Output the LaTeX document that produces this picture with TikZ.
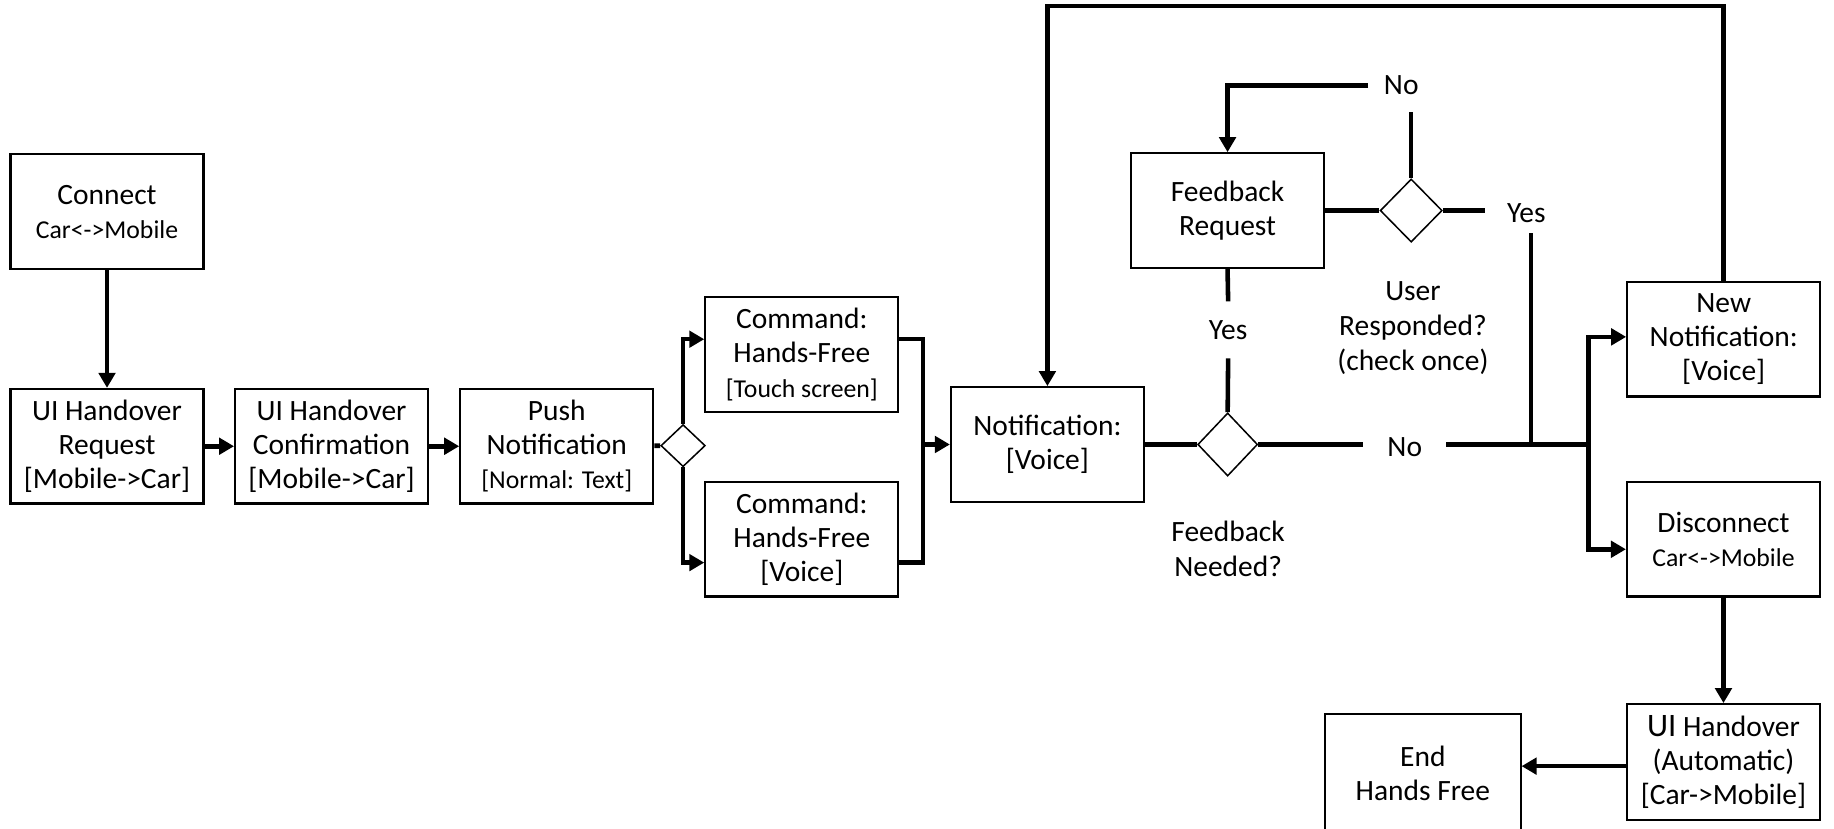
\documentclass[tikz,border=0pt]{standalone}
\usepackage{fontspec}
\setmainfont{Carlito}
\usetikzlibrary{shapes.geometric,arrows.meta}
\newcommand\smalltxt{\fontsize{11}{14.5}\selectfont}
\begin{document}
\begin{tikzpicture}[x=0.5pt,y=-0.5pt,
 box/.style={draw,line width=0.9pt,minimum width=82.5pt,minimum height=49pt,inner sep=0pt,align=center,font=\fontsize{12.6}{14.6}\selectfont},
 dia/.style={draw,diamond,line width=0.65pt,inner sep=0pt,aspect=1},
 lbl/.style={inner sep=0pt,align=center,font=\fontsize{12.6}{14.8}\selectfont},
 ln/.style={line width=1.95pt},
 arr/.style={line width=1.95pt,-{Triangle[length=6.4pt,width=7pt]}}]
\useasboundingbox (0,0) rectangle (1568,708);

\node[box] (connect) at (91.5,181) {Connect\\{\smalltxt Car<->Mobile}};
\node[box] (uireq) at (91.5,381.5) {UI Handover\\Request\\{[Mobile->Car]}};
\node[box] (uiconf) at (283.5,381.5) {UI Handover\\Confirmation\\{[Mobile->Car]}};
\node[box] (push) at (476,381.5) {Push\\Notification\\{\smalltxt [Normal: Text]}};
\node[dia,minimum width=19pt,minimum height=18pt] (d1) at (584,381) {};
\node[box] (cmdT) at (685.5,303) {Command:\\Hands-Free\\{\smalltxt [Touch screen]}};
\node[box] (cmdV) at (685.5,461) {Command:\\Hands-Free\\{[Voice]}};
\node[box] (notif) at (895.5,380) {Notification:\\{[Voice]}};
\node[dia,minimum width=25.6pt,minimum height=27pt] (d2) at (1049.6,380) {};
\node[box] (fb) at (1049.5,180) {Feedback\\Request};
\node[dia,minimum width=26.5pt,minimum height=27pt] (d3) at (1206.5,180) {};
\node[box] (newn) at (1473.7,290) {New\\Notification:\\{[Voice]}};
\node[box] (disc) at (1473.5,461) {Disconnect\\{\smalltxt Car<->Mobile}};
\node[box,minimum height=49.5pt] (uiauto) at (1473.5,651.5) {{\fontsize{14}{14.6}\selectfont UI} Handover\\(Automatic)\\{[Car->Mobile]}};
\node[box,minimum height=50.5pt,minimum width=83.5pt] (end) at (1216.5,661) {End\\Hands Free};

\node[lbl,minimum height=24pt] (yesA) at (1050,282) {Yes};
\node[lbl,minimum width=28pt,minimum height=22pt] (noT) at (1198,73) {No};
\node[lbl,minimum width=35pt,minimum height=17pt] (yesR) at (1305,182) {Yes};
\node[lbl,minimum width=35pt] (noM) at (1201,382) {No};
\node[lbl] (userR) at (1208,280.5) {User\\Responded?\\(check once)};
\node[lbl] (fbN) at (1050,469.5) {Feedback\\Needed?};

\coordinate (bT) at (584,290);
\coordinate (bB) at (584,481);
\coordinate (jR) at (789,380);
\coordinate (jY) at (1309,380);
\coordinate (jB) at (1358,380);
\coordinate (topL) at (0,5);

\draw[arr] (connect) -- (uireq);
\draw[arr] (uireq) -- (uiconf);
\draw[arr] (uiconf) -- (push);
\draw[ln] (push) -- (d1);
\draw[arr] (d1.north) |- (cmdT.west |- bT);
\draw[arr] (d1.south) |- (cmdV.west |- bB);
\draw[ln] (cmdT.east |- bT) -| (jR |- bB) -- (cmdV.east |- bB);
\draw[arr] (jR) -- (notif.west);
\draw[ln] (notif) -- (d2);
\draw[ln] (d2.north) -- (yesA.south);
\draw[ln] (yesA.north) -- (fb.south);
\draw[ln] (fb) -- (d3);
\draw[ln] (d3.north) -- (d3.north |- noT.south);
\draw[arr] (noT.west) -| (fb.north);
\draw[ln] (d3.east) -- (d3.east -| yesR.west);
\draw[ln] (yesR.south -| jY) -- (jY);
\draw[ln] (d2.east) -- (d2.east -| noM.west);
\draw[ln] (noM.east |- jB) -- (jB);
\draw[arr] (jB) |- ([yshift=1pt]newn.west);
\draw[arr] (jB) |- ([yshift=-4.3pt]disc.west);
\draw[arr] (newn.north) -- (newn.north |- topL) -| (notif.north);
\draw[arr] (disc) -- (uiauto);
\draw[arr] ([yshift=-1.75pt]uiauto.west) -- ([yshift=-1.75pt]uiauto.west -| end.east);
\end{tikzpicture}
\end{document}
